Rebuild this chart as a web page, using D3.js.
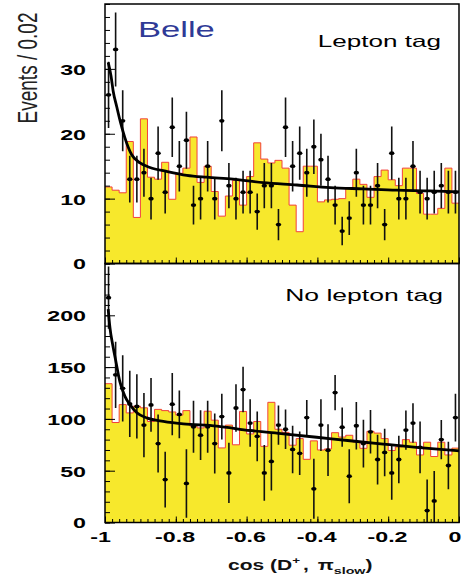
<!DOCTYPE html>
<html lang="en">
<head>
<meta charset="UTF-8">
<title>cos(D+, pi slow)</title>
<style>
  body { margin: 0; background: #fff; }
  svg { display: block; }
  text { font-family: "Liberation Sans", Arial, sans-serif; }
</style>
</head>
<body>
<svg></svg>
<script src="https://d3js.org/d3.v7.min.js"></script>
<script>
// bin lower edges, cos(D+, pi_slow), 50 bins of 0.02
const binLow = d3.range(50).map(i => -1 + i * 0.02);

// Lepton tag panel
const leptonHist = [11.8, 11.3, 10.9, 18.8, 7.1, 22.3, 13.3, 13.0, 15.6, 9.9,
  13.9, 14.7, 19.5, 12.5, 15.0, 11.1, 7.3, 10.4, 12.8, 9.0,
  13.4, 18.6, 16.1, 15.5, 15.9, 14.7, 9.0, 4.9, 15.0, 15.0,
  9.5, 9.8, 9.9, 10.0, 11.6, 13.0, 12.2, 10.2, 13.4, 14.4,
  12.9, 12.0, 14.7, 14.7, 10.8, 7.6, 7.6, 8.5, 14.7, 9.3];
const leptonData = [26, 33, 22, 13, 13, 14, 10, 17, 11, 21,
  15, 19, 9, 10, 15, 10, 22, 12, 10, 11,
  11, 8, 12, 12, 6, 21, 15, 17, 14, 18,
  16, 13, 9, 5, 7, 14, 9, 9, 12, 6,
  17, 10, 10, 15, 11, 10, 11, 12, 11, 11];
const leptonErr = [5.1, 5.7, 4.7, 3.6, 3.6, 3.7, 3.2, 4.1, 3.3, 4.6,
  3.9, 4.4, 3.0, 3.2, 3.9, 3.2, 4.7, 3.5, 3.2, 3.3,
  3.3, 2.8, 3.5, 3.5, 2.4, 4.6, 3.9, 4.1, 3.7, 4.2,
  4.0, 3.6, 3.0, 2.2, 2.6, 3.7, 3.0, 3.0, 3.5, 2.4,
  4.1, 3.2, 3.2, 3.9, 3.3, 3.2, 3.3, 3.5, 3.3, 3.3];
const leptonFit = [[-0.991, 31.0], [-0.983, 28.9], [-0.977, 26.6], [-0.967, 24.2],
  [-0.956, 21.7], [-0.944, 19.4], [-0.925, 16.8], [-0.901, 15.5], [-0.873, 14.8],
  [-0.826, 14.2], [-0.769, 13.6], [-0.713, 13.3], [-0.638, 13.0], [-0.553, 12.45],
  [-0.458, 12.1], [-0.364, 11.7], [-0.27, 11.5], [-0.176, 11.3], [-0.082, 11.2], [0, 11.05]];

// No lepton tag panel
const noLeptonHist = [134, 96.5, 113.8, 105.8, 112.3, 110.7, 97.5, 109.2, 108, 106.7,
  103.7, 108, 93.1, 91.3, 107.4, 98.8, 72, 94, 75, 107.2,
  85.5, 97.5, 73.5, 116, 90, 87, 74.6, 81, 61, 78.8,
  70, 71, 86.7, 82.5, 84.2, 77.6, 71.6, 88, 86.3, 81,
  69.5, 72.9, 80, 77.5, 65.2, 77.5, 63.7, 77.5, 65.2, 71.8];
const noLeptonData = [217, 142.5, 129.5, 114.5, 112, 94, 113.5, 76.2, 41.4, 114.2,
  104.3, 37.7, 92.4, 84.3, 92.4, 76.2, 102.2, 47.9, 110.5, 128.3,
  96, 83.2, 47.9, 59, 94, 90, 70.5, 66.8, 101.3, 32.5,
  94, 69.8, 125.4, 92, 44.7, 93.4, 76.2, 87.5, 60.8, 67.6,
  47.9, 60.8, 89.2, 96, 72.6, 11.5, 20.8, 80, 55, 101.3];
const noLeptonErr = [30, 32, 32, 32, 31, 31, 26, 28, 27, 30,
  23, 33, 25, 24, 25, 29, 22, 29, 23, 22,
  23, 24, 27, 28, 19, 19, 23, 21, 17, 29,
  25, 25, 17, 19, 26, 23, 23, 21, 24, 23,
  26, 23, 19, 19, 25, 30, 29, 19, 23, 23];
const noLeptonFit = [[-0.991, 206], [-0.986, 188], [-0.978, 171], [-0.969, 155],
  [-0.958, 136], [-0.944, 122], [-0.929, 113.5], [-0.91, 106], [-0.882, 101],
  [-0.845, 98], [-0.779, 95.3], [-0.684, 93], [-0.59, 88.8], [-0.496, 85.6],
  [-0.402, 82.3], [-0.308, 78.9], [-0.214, 75.7], [-0.12, 72.6], [-0.0065, 69.3], [0, 69.1]];

const yTicksLepton = [0, 10, 20, 30];
const yTicksNoLepton = [0, 50, 100, 150, 200];
const xTickLabels = [-1, -0.8, -0.6, -0.4, -0.2, 0];

const width = 462;
const height = 578;
const left = 105;
const right = 459;
const sx = 1.55;   // the figure is stretched horizontally
const yellow = "#f7e82c";
const red = "#f2403c";

const svg = d3.select("svg").attr("width", width).attr("height", height);
svg.append("rect").attr("width", width).attr("height", height).attr("fill", "#fff");

const x = d3.scaleLinear().domain([-1, 0]).range([left, right]);

const panels = [
  {id: "lep", top: 4, bottom: 263.5, ymax: 40, minor: 2, labels: yTicksLepton,
   hist: leptonHist, data: leptonData, err: leptonErr, fit: leptonFit, xlabels: false},
  {id: "nolep", top: 263.5, bottom: 522.5, ymax: 250, minor: 10, labels: yTicksNoLepton,
   hist: noLeptonHist, data: noLeptonData, err: noLeptonErr, fit: noLeptonFit, xlabels: true}
];

panels.forEach(p => {
  const y = d3.scaleLinear().domain([0, p.ymax]).range([p.bottom, p.top]);
  const g = svg.append("g");

  g.append("clipPath").attr("id", "clip-" + p.id)
    .append("rect")
      .attr("x", left).attr("y", p.top)
      .attr("width", right - left).attr("height", p.bottom - p.top);

  const plot = g.append("g").attr("clip-path", `url(#clip-${p.id})`);

  const steps = binLow.map((b, i) => ({x: b, v: p.hist[i]}));
  steps.push({x: 0, v: p.hist[p.hist.length - 1]});

  plot.append("path")
      .datum(steps)
      .attr("fill", yellow)
      .attr("d", d3.area().curve(d3.curveStepAfter)
        .x(d => x(d.x)).y0(y(0)).y1(d => y(d.v)));

  plot.append("path")
      .datum(steps)
      .attr("fill", "none")
      .attr("stroke", red)
      .attr("stroke-width", 1)
      .attr("d", d3.line().curve(d3.curveStepAfter).x(d => x(d.x)).y(d => y(d.v)));

  const pts = binLow.map((b, i) => ({c: b + 0.01, v: p.data[i], e: p.err[i]}));

  plot.append("g")
      .attr("stroke", "#111")
      .attr("stroke-width", 1.6)
    .selectAll("line")
    .data(pts)
    .join("line")
      .attr("x1", d => x(d.c)).attr("x2", d => x(d.c))
      .attr("y1", d => y(d.v - d.e)).attr("y2", d => y(d.v + d.e));

  plot.append("g")
      .attr("fill", "#000")
    .selectAll("ellipse")
    .data(pts)
    .join("ellipse")
      .attr("cx", d => x(d.c)).attr("cy", d => y(d.v))
      .attr("rx", 2.7).attr("ry", 1.9);

  plot.append("path")
      .datum(p.fit)
      .attr("fill", "none")
      .attr("stroke", "#000")
      .attr("stroke-width", 2.8)
      .attr("d", d3.line().curve(d3.curveMonotoneX).x(d => x(d[0])).y(d => y(d[1])));

  // y axis: minor and major ticks pointing inside, bold labels outside
  g.append("g")
      .attr("transform", `translate(${left},0)`)
      .call(d3.axisLeft(y).tickValues(d3.range(0, p.ymax + 0.001, p.minor)).tickSize(-5).tickFormat(""))
      .call(a => a.select(".domain").remove());

  g.append("g")
      .attr("transform", `translate(${left},0)`)
      .call(d3.axisLeft(y).tickValues(p.labels).tickSize(-10).tickPadding(0))
      .call(a => a.select(".domain").remove())
      .call(a => a.selectAll("text")
        .attr("x", -19 / sx)
        .attr("dy", "0.36em")
        .attr("transform", `scale(${sx},1)`)
        .attr("font-family", "Liberation Sans, Arial, sans-serif")
        .attr("font-weight", "bold")
        .attr("font-size", 15)
        .attr("fill", "#000"));

  // x axis ticks pointing up
  g.append("g")
      .attr("transform", `translate(0,${p.bottom})`)
      .call(d3.axisBottom(x).tickValues(d3.range(-1, 0.0001, 0.02)).tickSize(-3.5).tickFormat(""))
      .call(a => a.select(".domain").remove());

  const xMajor = g.append("g")
      .attr("transform", `translate(0,${p.bottom})`)
      .call(d3.axisBottom(x).tickValues(xTickLabels).tickSize(-6).tickPadding(9)
        .tickFormat(d => p.xlabels ? d3.format("")(d).replace("−", "-") : ""))
      .call(a => a.select(".domain").remove());

  // label offsets: "-1" sits left of its tick, "0" kept inside the picture
  xMajor.selectAll("text")
      .attr("transform", `scale(${sx},1)`)
      .attr("x", d => (d === -1 ? -5 : d === 0 ? -4.5 : -1.2) / sx)
      .attr("font-family", "Liberation Sans, Arial, sans-serif")
      .attr("font-weight", "bold")
      .attr("font-size", 15)
      .attr("fill", "#000");

  g.append("rect")
      .attr("x", left).attr("y", p.top)
      .attr("width", right - left).attr("height", p.bottom - p.top)
      .attr("fill", "none")
      .attr("stroke", "#000")
      .attr("stroke-width", 1.5);
});

// texts
svg.append("text")
    .attr("transform", "translate(37,68) rotate(-90) scale(1,1.5)")
    .attr("text-anchor", "middle")
    .attr("font-size", 19)
    .attr("fill", "#222")
    .text("Events / 0.02");

svg.append("text")
    .attr("transform", `translate(138,36.7) scale(${sx},1)`)
    .attr("font-size", 22.3)
    .attr("fill", "#2f3a96")
    .text("Belle");

svg.append("text")
    .attr("transform", "translate(441,46.5) scale(1.6,1)")
    .attr("text-anchor", "end")
    .attr("font-size", 16.3)
    .attr("fill", "#000")
    .text("Lepton tag");

svg.append("text")
    .attr("transform", "translate(443,300.7) scale(1.6,1)")
    .attr("text-anchor", "end")
    .attr("font-size", 16.6)
    .attr("fill", "#000")
    .text("No lepton tag");

const title = svg.append("text")
    .attr("transform", "translate(228,570) scale(1.5,1)")
    .attr("font-size", 14)
    .attr("font-weight", "bold")
    .attr("fill", "#111");
title.append("tspan").text("cos (D");
title.append("tspan").attr("font-size", 9).attr("dy", -6).text("+");
title.append("tspan").attr("dy", 6).attr("dx", 2).text(", ");
title.append("tspan").attr("dx", 2).text("π");
title.append("tspan").attr("font-size", 9.5).attr("dy", 4).text("slow");
title.append("tspan").attr("dy", -4).text(")");
</script>
</body>
</html>
